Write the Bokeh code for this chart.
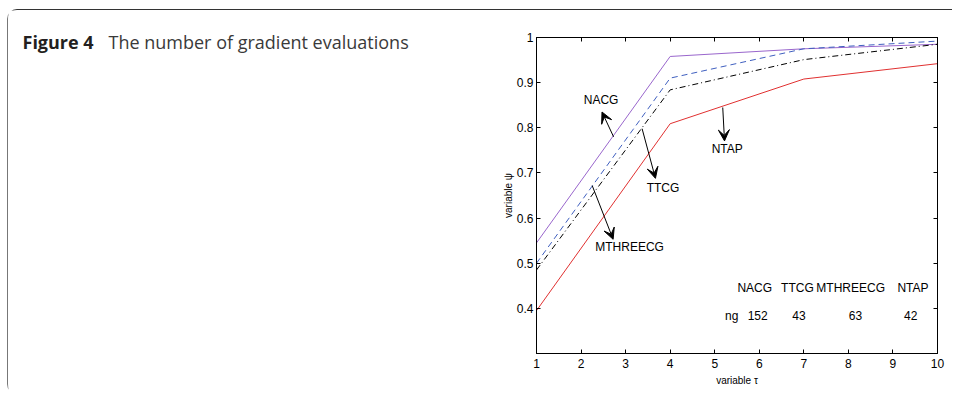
from bokeh.plotting import figure
from bokeh.layouts import row
from bokeh.models import (Range1d, LinearAxis, Label, Arrow, VeeHead, FixedTicker)
from bokeh.embed import file_html
from bokeh.resources import INLINE

# ---------------- data ----------------
tau = [1, 4, 7, 10]
nacg = [0.545, 0.958, 0.975, 0.985]
ttcg = [0.500, 0.910, 0.975, 0.992]
mthreecg = [0.485, 0.884, 0.951, 0.985]
ntap = [0.395, 0.809, 0.908, 0.942]

method_names = ["NACG", "TTCG", "MTHREECG", "NTAP"]
ng_values = [152, 43, 63, 42]

x_ticks = [1, 2, 3, 4, 5, 6, 7, 8, 9, 10]
y_ticks = [0.4, 0.5, 0.6, 0.7, 0.8, 0.9, 1.0]
y_tick_labels = {0.4: "0.4", 0.5: "0.5", 0.6: "0.6", 0.7: "0.7", 0.8: "0.8", 0.9: "0.9", 1.0: "1"}

# arrow annotations: (label, label_x, label_y, tail_x, tail_y, head_x, head_y)
arrow_notes = [
    ("NACG", 2.45, 0.862, 2.73, 0.780, 2.47, 0.835),
    ("TTCG", 3.84, 0.667, 3.37, 0.798, 3.67, 0.688),
    ("MTHREECG", 3.09, 0.536, 2.25, 0.672, 2.72, 0.553),
    ("NTAP", 5.28, 0.753, 5.18, 0.845, 5.22, 0.771),
]

# table placement (data coords)
header_x = [5.51, 6.49, 7.28, 9.10]
header_y = 0.446
ng_label_x = 5.23
ng_x = [5.74, 6.74, 8.01, 9.25]
ng_y = 0.384

FONT = "Liberation Sans"

# page geometry (pixels)
ROW_X, ROW_Y = 7, 9            # card outer corner
IN_X, IN_Y = ROW_X + 1, ROW_Y + 1
CAP_W = 480
FIG_H = 384
P_X = IN_X + CAP_W             # page x where chart canvas starts
P_W = 952 - P_X
FRAME_LEFT, FRAME_RIGHT, FRAME_TOP, FRAME_BOTTOM = 536, 937, 37, 353
CAPTION_BASELINE = 41

# ---------------- caption panel ----------------
cap = figure(width=CAP_W, height=FIG_H, output_backend="svg", toolbar_location=None,
             x_range=Range1d(IN_X, IN_X + CAP_W), y_range=Range1d(IN_Y + FIG_H, IN_Y),
             min_border=0, x_axis_type=None, y_axis_type=None, title=None)
cap.frame_align = False
cap.outline_line_color = None
cap.grid.visible = False
cap.background_fill_color = "white"
cap.border_fill_color = "white"
cap.add_layout(Label(x=22, y=CAPTION_BASELINE, text="Figure 4", text_font="Open Sans",
                     text_font_size="18px", text_font_style="bold", text_color="#231f20",
                     text_baseline="alphabetic"))
cap.add_layout(Label(x=108, y=CAPTION_BASELINE, text="The number of gradient evaluations",
                     text_font="Open Sans", text_font_size="18px", text_color="#3a3a3a",
                     text_baseline="alphabetic"))

# ---------------- chart ----------------
p = figure(width=P_W, height=FIG_H, output_backend="svg", toolbar_location=None, title=None,
           x_range=Range1d(1, 10), y_range=Range1d(0.3, 1.0),
           min_border_left=FRAME_LEFT - P_X, min_border_right=P_X + P_W - FRAME_RIGHT,
           min_border_top=FRAME_TOP - IN_Y, min_border_bottom=IN_Y + FIG_H - FRAME_BOTTOM)
p.frame_align = False
p.background_fill_color = "white"
p.border_fill_color = "white"
p.outline_line_color = "black"
p.outline_line_width = 1
p.grid.visible = False

for ax in p.xaxis + p.yaxis:
    ax.axis_line_color = "black"
    ax.major_tick_line_color = "black"
    ax.minor_tick_line_color = None
    ax.major_tick_in = 4
    ax.major_tick_out = 0
    ax.major_label_text_font = FONT
    ax.major_label_text_font_size = "12px"
    ax.major_label_text_color = "black"
    ax.axis_label_text_font = FONT
    ax.axis_label_text_font_size = "10px"
    ax.axis_label_text_font_style = "normal"
    ax.axis_label_text_color = "black"

p.xaxis.ticker = FixedTicker(ticks=x_ticks)
p.yaxis.ticker = FixedTicker(ticks=y_ticks)
p.yaxis.major_label_overrides = y_tick_labels
p.xaxis.axis_label = "variable τ"
p.yaxis.axis_label = "variable ψ"
p.xaxis.axis_label_standoff = 4
p.yaxis.axis_label_standoff = 0
p.xaxis.major_label_standoff = 5
p.yaxis.major_label_standoff = 3

# mirrored tick axes (top and right)
top = LinearAxis(ticker=FixedTicker(ticks=x_ticks))
right = LinearAxis(ticker=FixedTicker(ticks=y_ticks))
for ax in (top, right):
    ax.major_tick_in = 4
    ax.major_tick_out = 0
    ax.minor_tick_line_color = None
    ax.major_label_text_font_size = "0px"
    ax.major_label_text_color = None
    ax.axis_line_color = "black"
p.add_layout(top, "above")
p.add_layout(right, "right")

# series
p.line(tau, nacg, line_color="#9966cc", line_width=1)
p.line(tau, ttcg, line_color="#3f5fbf", line_width=1, line_dash="6 4")
p.line(tau, mthreecg, line_color="black", line_width=1, line_dash="6 3 1 3")
p.line(tau, ntap, line_color="#e03030", line_width=1)

# arrows and labels
for name, lx, ly, tx, ty, hx, hy in arrow_notes:
    p.add_layout(Arrow(x_start=tx, y_start=ty, x_end=hx, y_end=hy, line_color="black", line_width=1,
                       end=VeeHead(size=11, fill_color="black", line_color="black", line_width=1)))
    p.add_layout(Label(x=lx, y=ly, text=name, text_align="center", text_baseline="middle",
                       text_font=FONT, text_font_size="12px", text_color="black"))

# table
for name, x in zip(method_names, header_x):
    p.add_layout(Label(x=x, y=header_y, text=name, text_align="left", text_baseline="middle",
                       text_font=FONT, text_font_size="12px", text_color="black"))
p.add_layout(Label(x=ng_label_x, y=ng_y, text="ng", text_align="left", text_baseline="middle",
                   text_font=FONT, text_font_size="12px", text_color="black"))
for v, x in zip(ng_values, ng_x):
    p.add_layout(Label(x=x, y=ng_y, text=str(v), text_align="left", text_baseline="middle",
                       text_font=FONT, text_font_size="12px", text_color="black"))

layout = row(cap, p, spacing=0, margin=(ROW_Y, 0, 0, ROW_X),
             styles={"border-top": "1px solid #333333", "border-left": "1px solid #777777",
                     "border-radius": "10px 0 0 10px", "background-color": "white"})

open("out.html", "w").write(file_html(layout, INLINE))
